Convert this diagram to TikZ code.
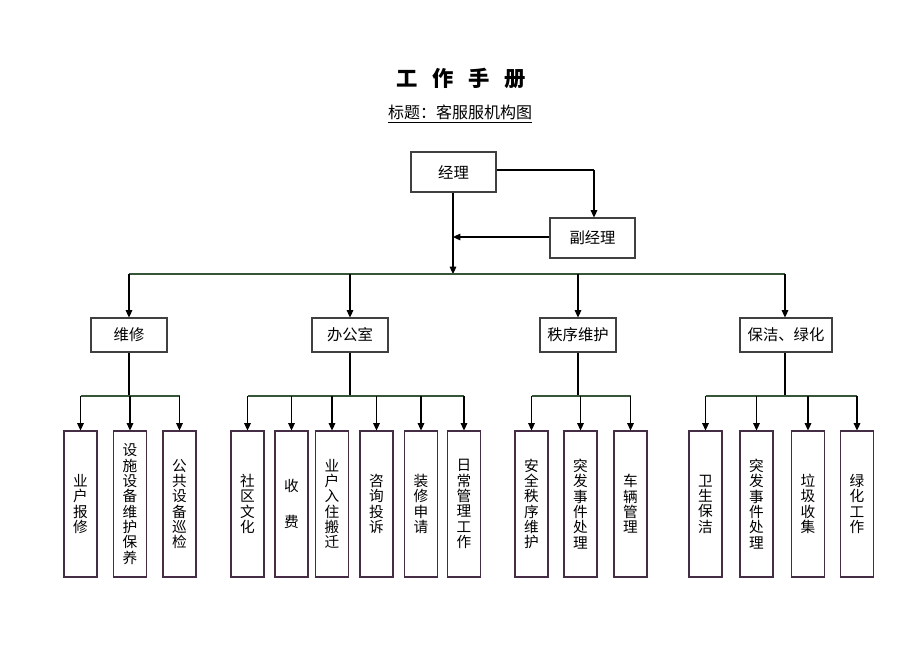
\documentclass[tikz,border=0pt]{standalone}
\usepackage{fontspec}
\setmainfont{Liberation Serif}
\newfontfamily\cjk{Noto Sans CJK SC}
\usetikzlibrary{arrows.meta}
\definecolor{busgreen}{RGB}{55,85,55}
\definecolor{boxline}{RGB}{70,45,70}
\begin{document}
\begin{tikzpicture}[x=0.75pt,y=-0.75pt,
  every node/.style={font=\cjk},
  arr/.style={draw=black,line width=0.8pt,-{Triangle[length=5.5pt,width=5pt]}},
  ln/.style={draw=black,line width=0.8pt},
  bus/.style={draw=busgreen,line width=0.8pt},
  topbox/.style={draw=black!75,line width=0.8pt,minimum width=63.75pt,minimum height=30pt,inner sep=0pt,font=\cjk\fontsize{11.5}{12}\selectfont},
  midbox/.style={draw=black!75,line width=0.8pt,minimum width=57pt,minimum height=25.5pt,inner sep=0pt,font=\cjk\fontsize{11.5}{12}\selectfont},
  leaf/.style={draw=boxline,line width=0.8pt,minimum width=24.75pt,minimum height=109.5pt,inner sep=0pt,align=center,font=\cjk\fontsize{11}{11.5}\selectfont}
]
\useasboundingbox (0,0) rectangle (920,651);
\fill[white] (0,0) rectangle (920,651);

% titles
\node[font=\cjk\bfseries\fontsize{16}{18}\selectfont] (title) at (461,78)
  {工\hspace{11pt}作\hspace{11pt}手\hspace{11pt}册};
\node[font=\cjk\fontsize{12}{14}\selectfont] (subtitle) at (460,114)
  {\underline{标题：客服服机构图}};

% managers
\node[topbox] (mgr) at (453.5,172) {经理};
\node[topbox] (vmgr) at (592.5,238) {副经理};
\coordinate (mgrR) at (496,170);
\coordinate (corner) at (594,170);
\coordinate (vtop) at (594,218);
\coordinate (join) at (453,237);
\coordinate (bustop) at (453,274);
\draw[ln] (mgr.east |- mgrR) -- (corner);
\draw[arr] (corner) -- (vmgr.north -| vtop);
\draw[arr] (vmgr.west |- join) -- (join);
\draw[arr] (mgr.south -| bustop) -- (bustop);

% main bus
\coordinate (b1) at (129,274);
\coordinate (b2) at (350,274);
\coordinate (b3) at (578,274);
\coordinate (b4) at (785,274);
\draw[bus] (b1) -- (b4);

% level 2
\node[midbox] (wx) at (129,335) {维修};
\node[midbox] (bg) at (350,335) {办公室};
\node[midbox] (zx) at (578,335) {秩序维护};
\node[midbox,minimum width=69pt] (bj) at (786,335) {保洁、绿化};
\draw[arr] (b1) -- (wx.north -| b1);
\draw[arr] (b2) -- (bg.north -| b2);
\draw[arr] (b3) -- (zx.north -| b3);
\draw[arr] (b4) -- (bj.north -| b4);

% sub bus coordinates
\coordinate (s1) at (129,396);
\coordinate (s2) at (350,396);
\coordinate (s3) at (578,396);
\coordinate (s4) at (785,396);
\draw[ln] (wx.south -| s1) -- (s1);
\draw[ln] (bg.south -| s2) -- (s2);
\draw[ln] (zx.south -| s3) -- (s3);
\draw[ln] (bj.south -| s4) -- (s4);

% leaves: weixiu
\node[leaf] (l11) at (80.5,504) {业\\户\\报\\修};
\node[leaf] (l12) at (130,504) {设\\施\\设\\备\\维\\护\\保\\养};
\node[leaf] (l13) at (179.5,504) {公\\共\\设\\备\\巡\\检};
% office
\node[leaf] (l21) at (247.5,504) {社\\区\\文\\化};
\node[leaf] (l22) at (291.5,504) {收\\[16pt]费};
\node[leaf] (l23) at (332,504) {业\\户\\入\\住\\搬\\迁};
\node[leaf] (l24) at (376.5,504) {咨\\询\\投\\诉};
\node[leaf] (l25) at (421,504) {装\\修\\申\\请};
\node[leaf] (l26) at (464,504) {日\\常\\管\\理\\工\\作};
% order
\node[leaf] (l31) at (531.5,504) {安\\全\\秩\\序\\维\\护};
\node[leaf] (l32) at (580.5,504) {突\\发\\事\\件\\处\\理};
\node[leaf] (l33) at (630.5,504) {车\\辆\\管\\理};
% cleaning
\node[leaf] (l41) at (705.5,504) {卫\\生\\保\\洁};
\node[leaf] (l42) at (756.5,504) {突\\发\\事\\件\\处\\理};
\node[leaf] (l43) at (808,504) {垃\\圾\\收\\集};
\node[leaf] (l44) at (857,504) {绿\\化\\工\\作};

% sub buses
\draw[bus] (l11.north |- s1) -- (l13.north |- s1);
\draw[bus] (l21.north |- s2) -- (l26.north |- s2);
\draw[bus] (l31.north |- s3) -- (l33.north |- s3);
\draw[bus] (l41.north |- s4) -- (l44.north |- s4);

\foreach \l/\s in {l11/s1,l12/s1,l13/s1,l21/s2,l22/s2,l23/s2,l24/s2,l25/s2,l26/s2,l31/s3,l32/s3,l33/s3,l41/s4,l42/s4,l43/s4,l44/s4}
  \draw[arr] (\l.north |- \s) -- (\l.north);
\end{tikzpicture}
\end{document}
